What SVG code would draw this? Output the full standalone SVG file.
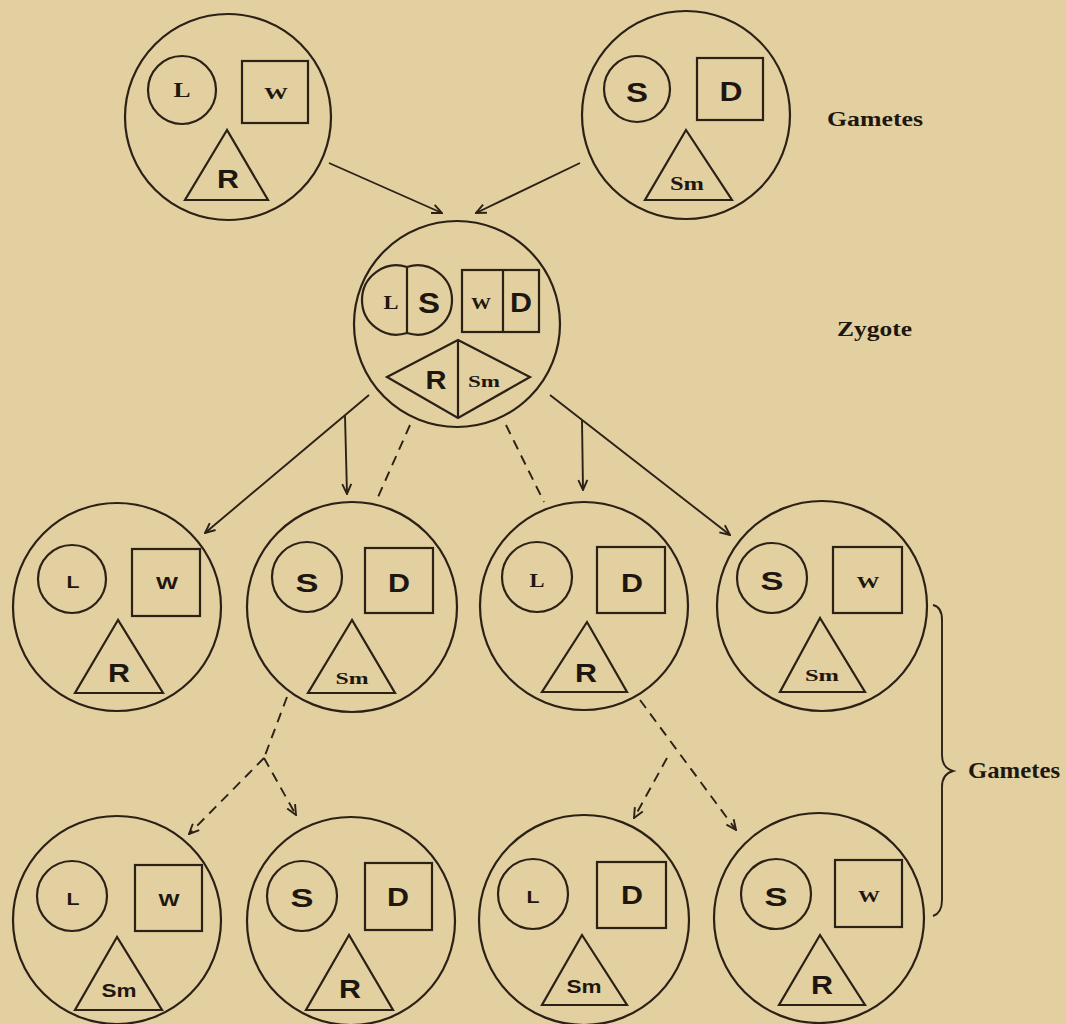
<svg xmlns="http://www.w3.org/2000/svg" width="1066" height="1024" viewBox="0 0 1066 1024">
<defs>
<style>
.sh{fill:none;stroke:#2b2116;stroke-width:2.2}
.ln{fill:none;stroke:#2b2116;stroke-width:1.9}
.ds{fill:none;stroke:#2b2116;stroke-width:1.9;stroke-dasharray:10 7}
.sb{font-family:"Liberation Sans",Arial,sans-serif;font-weight:bold;text-anchor:middle;fill:#1e170f}
.sf{font-family:"Liberation Serif","Times New Roman",serif;font-weight:bold;text-anchor:middle;fill:#1e170f}
.lab{font-family:"Liberation Serif","Times New Roman",serif;font-weight:bold;fill:#1e170f}
</style>
<marker id="ah" viewBox="-11 -6 12 12" refX="0" refY="0" markerWidth="12" markerHeight="12" markerUnits="userSpaceOnUse" orient="auto">
<path d="M-10,-4.5 L0,0 L-10,4.5" fill="none" stroke="#2b2116" stroke-width="1.9"/>
</marker>
</defs>
<rect x="0" y="0" width="1066" height="1024" fill="#e3d0a0"/>

<g id="connectors">
<path class="ln" d="M329,163 L442,213" marker-end="url(#ah)"/>
<path class="ln" d="M580,163 L476,213" marker-end="url(#ah)"/>
<path class="ln" d="M369,395 L205,533" marker-end="url(#ah)"/>
<path class="ln" d="M345,416 L347,494" marker-end="url(#ah)"/>
<path class="ln" d="M550,395 L730,535" marker-end="url(#ah)"/>
<path class="ln" d="M582,420 L583,490" marker-end="url(#ah)"/>
<path class="ds" d="M410,425 L378,497"/>
<path class="ds" d="M506,425 L544,502"/>
<path class="ds" d="M287,697 L264,758"/>
<path class="ds" d="M264,758 L189,834" marker-end="url(#ah)"/>
<path class="ds" d="M264,758 L296,815" marker-end="url(#ah)"/>
<path class="ds" d="M640,700 L736,830" marker-end="url(#ah)"/>
<path class="ds" d="M667,758 L634,818" marker-end="url(#ah)"/>
<path class="ln" d="M933,605 Q942,607 942,620 L942,755 Q942,768 953,771 Q942,774 942,787 L942,900 Q942,913 933,916"/>
</g>

<g id="gamete-LWR">
<circle class="sh" cx="228" cy="117" r="103"/>
<circle class="sh" cx="182" cy="90" r="34"/>
<rect class="sh" x="242" y="61" width="66" height="62"/>
<polygon class="sh" points="227,130 185,200 268,200"/>
<text class="sf" x="182" y="97" font-size="20" textLength="17" lengthAdjust="spacingAndGlyphs">L</text>
<text class="sf" x="276" y="99" font-size="17" textLength="24" lengthAdjust="spacingAndGlyphs">W</text>
<text class="sb" x="228" y="188" font-size="25" textLength="22" lengthAdjust="spacingAndGlyphs">R</text>
</g>

<g id="gamete-SDSm">
<circle class="sh" cx="686" cy="115" r="104"/>
<circle class="sh" cx="637" cy="89" r="33"/>
<rect class="sh" x="697" y="58" width="66" height="62"/>
<polygon class="sh" points="686,130 645,200 732,200"/>
<text class="sb" x="637" y="102" font-size="27" textLength="22" lengthAdjust="spacingAndGlyphs">S</text>
<text class="sb" x="731" y="101" font-size="27" textLength="23" lengthAdjust="spacingAndGlyphs">D</text>
<text class="sf" x="687" y="190" font-size="19" textLength="34" lengthAdjust="spacingAndGlyphs">Sm</text>
</g>

<g id="zygote">
<circle class="sh" cx="457" cy="324" r="103"/>
<path class="sh" d="M407,267 A34.6,34.6 0 1 0 407,333 A34.6,34.6 0 1 0 407,267 Z M407,267 L407,333"/>
<rect class="sh" x="462" y="270" width="77" height="62"/>
<line class="sh" x1="503" y1="270" x2="503" y2="332"/>
<polygon class="sh" points="387,377 458,340 530,377 458,418"/>
<line class="sh" x1="458" y1="340" x2="458" y2="418"/>
<text class="sf" x="391" y="309" font-size="19" textLength="15" lengthAdjust="spacingAndGlyphs">L</text>
<text class="sb" x="429" y="313" font-size="29" textLength="22" lengthAdjust="spacingAndGlyphs">S</text>
<text class="sf" x="481" y="309" font-size="16" textLength="20" lengthAdjust="spacingAndGlyphs">W</text>
<text class="sb" x="521" y="312" font-size="27" textLength="22" lengthAdjust="spacingAndGlyphs">D</text>
<text class="sb" x="436" y="389" font-size="25" textLength="21" lengthAdjust="spacingAndGlyphs">R</text>
<text class="sf" x="484" y="387" font-size="17" textLength="32" lengthAdjust="spacingAndGlyphs">Sm</text>
</g>

<g id="f1-LWR">
<circle class="sh" cx="117" cy="607" r="104"/>
<circle class="sh" cx="72" cy="579" r="34"/>
<rect class="sh" x="132" y="549" width="68" height="67"/>
<polygon class="sh" points="118,620 75,693 163,693"/>
<text class="sb" x="73" y="588" font-size="17" textLength="13" lengthAdjust="spacingAndGlyphs">L</text>
<text class="sb" x="167" y="589" font-size="16" textLength="22" lengthAdjust="spacingAndGlyphs">W</text>
<text class="sb" x="119" y="682" font-size="25" textLength="22" lengthAdjust="spacingAndGlyphs">R</text>
</g>

<g id="f1-SDSm">
<circle class="sh" cx="352" cy="607" r="105"/>
<circle class="sh" cx="307" cy="577" r="35"/>
<rect class="sh" x="365" y="548" width="68" height="65"/>
<polygon class="sh" points="352,620 308,693 395,693"/>
<text class="sb" x="307" y="592" font-size="25" textLength="23" lengthAdjust="spacingAndGlyphs">S</text>
<text class="sb" x="399" y="592" font-size="25" textLength="22" lengthAdjust="spacingAndGlyphs">D</text>
<text class="sf" x="352" y="684" font-size="17" textLength="33" lengthAdjust="spacingAndGlyphs">Sm</text>
</g>

<g id="f1-LDR">
<circle class="sh" cx="584" cy="606" r="104"/>
<circle class="sh" cx="537" cy="577" r="35"/>
<rect class="sh" x="597" y="547" width="68" height="66"/>
<polygon class="sh" points="587,622 542,692 627,692"/>
<text class="sf" x="537" y="587" font-size="19" textLength="15" lengthAdjust="spacingAndGlyphs">L</text>
<text class="sb" x="632" y="592" font-size="25" textLength="22" lengthAdjust="spacingAndGlyphs">D</text>
<text class="sb" x="586" y="682" font-size="25" textLength="22" lengthAdjust="spacingAndGlyphs">R</text>
</g>

<g id="f1-SWSm">
<circle class="sh" cx="822" cy="606" r="105"/>
<circle class="sh" cx="772" cy="578" r="35"/>
<rect class="sh" x="833" y="547" width="69" height="66"/>
<polygon class="sh" points="820,618 780,692 865,692"/>
<text class="sb" x="772" y="590" font-size="25" textLength="23" lengthAdjust="spacingAndGlyphs">S</text>
<text class="sf" x="868" y="588" font-size="17" textLength="23" lengthAdjust="spacingAndGlyphs">W</text>
<text class="sf" x="822" y="681" font-size="17" textLength="34" lengthAdjust="spacingAndGlyphs">Sm</text>
</g>

<g id="f2-LWSm">
<circle class="sh" cx="117" cy="920" r="104"/>
<circle class="sh" cx="72" cy="896" r="35"/>
<rect class="sh" x="135" y="865" width="67" height="66"/>
<polygon class="sh" points="117,937 75,1010 162,1010"/>
<text class="sb" x="73" y="905" font-size="17" textLength="13" lengthAdjust="spacingAndGlyphs">L</text>
<text class="sb" x="169" y="906" font-size="16" textLength="21" lengthAdjust="spacingAndGlyphs">W</text>
<text class="sb" x="119" y="997" font-size="19" textLength="35" lengthAdjust="spacingAndGlyphs">Sm</text>
</g>

<g id="f2-SDR">
<circle class="sh" cx="351" cy="921" r="104"/>
<circle class="sh" cx="302" cy="896" r="35"/>
<rect class="sh" x="365" y="863" width="67" height="67"/>
<polygon class="sh" points="349,935 306,1010 393,1010"/>
<text class="sb" x="302" y="907" font-size="25" textLength="23" lengthAdjust="spacingAndGlyphs">S</text>
<text class="sb" x="398" y="906" font-size="25" textLength="22" lengthAdjust="spacingAndGlyphs">D</text>
<text class="sb" x="350" y="998" font-size="25" textLength="22" lengthAdjust="spacingAndGlyphs">R</text>
</g>

<g id="f2-LDSm">
<circle class="sh" cx="584" cy="920" r="105"/>
<circle class="sh" cx="533" cy="894" r="35"/>
<rect class="sh" x="597" y="862" width="69" height="66"/>
<polygon class="sh" points="582,935 542,1005 627,1005"/>
<text class="sb" x="533" y="903" font-size="17" textLength="13" lengthAdjust="spacingAndGlyphs">L</text>
<text class="sb" x="632" y="904" font-size="25" textLength="22" lengthAdjust="spacingAndGlyphs">D</text>
<text class="sb" x="584" y="993" font-size="19" textLength="35" lengthAdjust="spacingAndGlyphs">Sm</text>
</g>

<g id="f2-SWR">
<circle class="sh" cx="819" cy="918" r="105"/>
<circle class="sh" cx="776" cy="894" r="35"/>
<rect class="sh" x="835" y="860" width="67" height="67"/>
<polygon class="sh" points="820,935 779,1005 865,1005"/>
<text class="sb" x="776" y="906" font-size="25" textLength="23" lengthAdjust="spacingAndGlyphs">S</text>
<text class="sf" x="869" y="902" font-size="17" textLength="22" lengthAdjust="spacingAndGlyphs">W</text>
<text class="sb" x="822" y="994" font-size="25" textLength="22" lengthAdjust="spacingAndGlyphs">R</text>
</g>

<g id="labels">
<text class="lab" x="827" y="126" font-size="20" textLength="96" lengthAdjust="spacingAndGlyphs">Gametes</text>
<text class="lab" x="837" y="336" font-size="21" textLength="75" lengthAdjust="spacingAndGlyphs">Zygote</text>
<text class="lab" x="968" y="778" font-size="23" textLength="92" lengthAdjust="spacingAndGlyphs">Gametes</text>
</g>
</svg>
